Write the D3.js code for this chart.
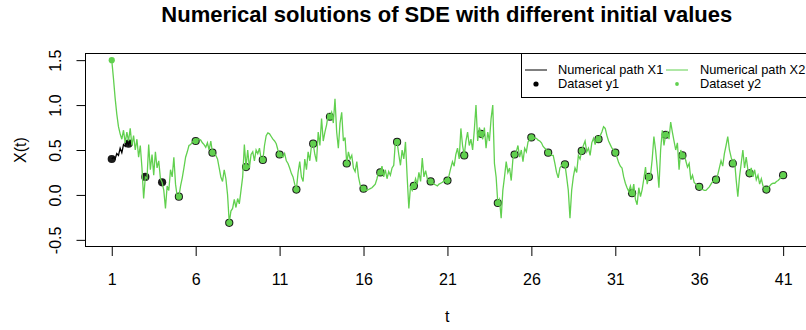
<!DOCTYPE html>
<html>
<head>
<meta charset="utf-8">
<script src="https://cdn.jsdelivr.net/npm/d3@7"></script>
<style>
  html, body { margin: 0; padding: 0; background: #ffffff; }
  svg { display: block; }
  text { font-family: "Liberation Sans", Arial, sans-serif; fill: #000; }
</style>
</head>
<body>
<svg id="chart" width="806" height="330"></svg>
<script>
// ---------------- data ----------------
const titleText = "Numerical solutions of SDE with different initial values";
const xLabel = "t";
const yLabel = "X(t)";
const xTickValues = [1, 6, 11, 16, 21, 26, 31, 36, 41];
const yTickValues = [-0.5, 0.0, 0.5, 1.0, 1.5];
const yTickLabels = ["-0.5", "0.0", "0.5", "1.0", "1.5"];

// time grid of the numerical paths
const pathStart = 1;
const pathStep = 0.1;

// Numerical path X2 (green), one value per 0.1 of t, from t = 1 to t = 41
const x2Values = [
  1.50,1.30,1.08,0.90,0.76,0.68,0.62,0.72,0.58,0.70,
  0.60,0.74,0.55,0.66,0.50,0.62,0.42,0.55,0.30,-0.04,
  0.20,0.18,0.56,0.28,0.45,0.22,0.48,0.30,0.38,0.18,
  0.14,0.05,-0.15,0.10,0.05,0.28,0.20,0.42,0.12,-0.02,
  -0.02,0.10,0.19,0.30,0.42,0.48,0.55,0.56,0.59,0.60,
  0.60,0.62,0.62,0.61,0.58,0.56,0.53,0.58,0.50,0.60,
  0.47,0.46,0.44,0.40,0.30,0.20,0.15,0.28,0.18,0.00,
  -0.31,-0.18,-0.15,-0.05,-0.14,-0.04,-0.10,0.05,0.20,0.56,
  0.31,0.50,0.30,0.45,0.48,0.38,0.50,0.46,0.52,0.40,
  0.38,0.55,0.66,0.69,0.68,0.65,0.62,0.60,0.57,0.50,
  0.45,0.44,0.42,0.46,0.38,0.35,0.30,0.24,0.20,0.12,
  0.06,0.25,0.37,0.20,0.15,0.40,0.28,0.48,0.38,0.55,
  0.57,0.45,0.37,0.70,0.55,0.85,0.60,0.70,0.78,0.90,
  0.87,0.92,0.80,1.07,0.70,0.52,0.80,0.92,0.60,0.64,
  0.35,0.48,0.40,0.44,0.30,0.26,0.37,0.20,0.11,0.08,
  0.07,0.06,0.05,0.06,0.07,0.08,0.10,0.12,0.18,0.26,
  0.25,0.32,0.20,0.28,0.18,0.26,0.22,0.30,0.33,0.60,
  0.59,0.45,0.33,0.50,0.40,0.59,0.20,-0.15,0.10,0.05,
  0.10,0.18,0.12,0.25,0.15,0.41,0.20,0.27,0.18,0.16,
  0.15,0.13,0.12,0.11,0.10,0.12,0.13,0.14,0.16,0.15,
  0.16,0.22,0.30,0.37,0.32,0.45,0.52,0.40,0.74,0.55,
  0.44,0.60,0.70,0.55,0.62,0.50,0.72,1.00,0.60,0.75,
  0.68,0.62,0.75,0.52,0.70,0.60,0.85,1.00,0.35,0.20,
  -0.09,-0.05,-0.26,0.05,0.20,0.37,0.25,0.30,0.16,0.40,
  0.45,0.48,0.55,0.42,0.50,0.37,0.52,0.48,0.59,0.62,
  0.64,0.65,0.63,0.63,0.61,0.60,0.58,0.54,0.52,0.50,
  0.47,0.46,0.44,0.44,0.35,0.25,0.19,0.30,0.33,0.36,
  0.34,0.20,0.05,-0.26,0.05,0.20,0.30,0.25,0.44,0.40,
  0.49,0.55,0.60,0.48,0.52,0.44,0.58,0.63,0.56,0.65,
  0.62,0.66,0.70,0.76,0.74,0.66,0.60,0.56,0.52,0.50,
  0.47,0.42,0.36,0.32,0.30,0.20,0.13,0.08,0.04,0.10,
  0.02,0.12,-0.05,-0.11,0.08,-0.02,0.06,0.18,0.31,0.12,
  0.20,0.22,0.40,0.65,0.50,0.30,0.08,0.50,0.72,0.55,
  0.67,0.70,0.62,0.81,0.70,0.60,0.50,0.58,0.28,0.50,
  0.44,0.46,0.38,0.31,0.35,0.17,0.22,0.14,0.12,0.10,
  0.09,0.07,0.06,0.05,0.05,0.07,0.09,0.12,0.15,0.16,
  0.17,0.22,0.30,0.38,0.32,0.46,0.55,0.65,0.50,0.42,
  0.35,0.40,0.17,-0.02,0.20,0.35,0.50,0.30,0.42,0.28,
  0.24,0.30,0.20,0.28,0.17,0.22,0.12,0.18,0.10,0.08,
  0.06,0.08,0.10,0.12,0.13,0.13,0.15,0.16,0.18,0.20,
  0.22
];

// Numerical path X1 (black), visible part before it joins X2
const x1Values = [0.40,0.42,0.40,0.46,0.44,0.52,0.47,0.56,0.54,0.59,0.56,0.60,0.55];

// observation times and datasets
const obsTimes = d3.range(1, 42);
const y1Values = [0.40,0.57,0.20,0.14,-0.02,0.60,0.47,-0.31,0.31,0.39,
                  0.45,0.06,0.57,0.87,0.35,0.07,0.25,0.59,0.10,0.15,
                  0.16,0.44,0.68,-0.09,0.45,0.64,0.47,0.34,0.49,0.62,
                  0.47,0.02,0.20,0.67,0.44,0.09,0.17,0.35,0.24,0.06,0.22];
const y2Values = [1.50,null,null,null,-0.02,0.60,0.47,-0.31,0.31,0.39,
                  0.45,0.06,0.57,0.87,0.35,0.07,0.25,0.59,0.10,0.15,
                  0.16,0.44,0.68,-0.09,0.45,0.64,0.47,0.34,0.49,0.62,
                  0.47,0.02,0.20,0.67,0.44,0.09,0.17,0.35,0.24,0.06,0.22];

const legendLabels = ["Numerical path X1", "Dataset y1", "Numerical path X2", "Dataset y2"];

// ---------------- layout ----------------
const colX1 = "#000000";
const colX2 = "#61D04F";
const plot = { left: 85.5, right: 810, top: 53.5, bottom: 246.5 };

const svg = d3.select("#chart");

const x = d3.scaleLinear().domain([-0.6, 42.6]).range([plot.left - 0.6, plot.right]);
const y = d3.scaleLinear().domain([-0.574, 1.574]).range([plot.bottom, plot.top]);

svg.append("defs").append("clipPath").attr("id", "clip")
  .append("rect").attr("x", plot.left).attr("y", plot.top)
  .attr("width", plot.right - plot.left).attr("height", plot.bottom - plot.top);

const g = svg.append("g").attr("clip-path", "url(#clip)");

const x1Data = x1Values.map((v, i) => [pathStart + i * pathStep, v]);
const x2Data = x2Values.map((v, i) => [pathStart + i * pathStep, v]);
const line = d3.line().x(d => x(d[0])).y(d => y(d[1]));

// dataset points (drawn first, paths go over them)
g.selectAll("circle.y1").data(obsTimes.map((t, i) => [t, y1Values[i]]).filter(d => d[1] !== null))
  .enter().append("circle").attr("class", "y1")
  .attr("cx", d => x(d[0])).attr("cy", d => y(d[1])).attr("r", 4.1)
  .attr("fill", "#1a1a1a");
g.selectAll("circle.y2").data(obsTimes.map((t, i) => [t, y2Values[i]]).filter(d => d[1] !== null))
  .enter().append("circle").attr("class", "y2")
  .attr("cx", d => x(d[0])).attr("cy", d => y(d[1])).attr("r", 3.1)
  .attr("fill", colX2);

g.append("path").datum(x1Data).attr("d", line)
  .attr("fill", "none").attr("stroke", colX1).attr("stroke-width", 1.3);
g.append("path").datum(x2Data).attr("d", line)
  .attr("fill", "none").attr("stroke", colX2).attr("stroke-width", 1.3);

// box
svg.append("rect").attr("x", plot.left).attr("y", plot.top)
  .attr("width", plot.right - plot.left).attr("height", plot.bottom - plot.top)
  .attr("fill", "none").attr("stroke", "#000").attr("stroke-width", 1);

// x axis
const xAxis = d3.axisBottom(x).tickValues(xTickValues).tickSize(9.5).tickPadding(18)
  .tickFormat(d3.format("d"));
const gx = svg.append("g").attr("transform", `translate(0,${plot.bottom})`).call(xAxis);
gx.select(".domain").remove();
gx.selectAll("line").attr("stroke", "#000");
gx.selectAll("text").attr("font-size", "16px").attr("font-family", "Liberation Sans, Arial, sans-serif").attr("fill", "#000");

// y axis
const yAxis = d3.axisLeft(y).tickValues(yTickValues).tickSize(9)
  .tickFormat((d, i) => yTickLabels[i]);
const gy = svg.append("g").attr("transform", `translate(${plot.left},0)`).call(yAxis);
gy.select(".domain").remove();
gy.selectAll("line").attr("stroke", "#000");
gy.selectAll("text")
  .attr("font-size", "16px").attr("font-family", "Liberation Sans, Arial, sans-serif").attr("fill", "#000")
  .attr("text-anchor", "middle").attr("x", null)
  .attr("transform", "translate(-30,0) rotate(-90)")
  .attr("dy", "0.35em");

// axis titles
svg.append("text").attr("x", (plot.left + 810) / 2 - 0.5).attr("y", 322)
  .attr("text-anchor", "middle").attr("font-size", "16px").text(xLabel);
svg.append("text").attr("transform", `translate(26,${(plot.top + plot.bottom) / 2}) rotate(-90)`)
  .attr("text-anchor", "middle").attr("font-size", "16px").text(yLabel);

// title
svg.append("text").attr("x", (plot.left + 810) / 2 - 1).attr("y", 22)
  .attr("text-anchor", "middle").attr("font-size", "22px").attr("font-weight", "bold")
  .text(titleText);

// legend
const lg = svg.append("g");
lg.append("rect").attr("x", 521.5).attr("y", plot.top).attr("width", 300).attr("height", 44)
  .attr("fill", "#fff").attr("stroke", "#000").attr("stroke-width", 1);
const rowY = [70, 84];
const cols = [{ sym: 525, txt: 558 }, { sym: 666, txt: 700 }];
lg.append("line").attr("x1", cols[0].sym).attr("x2", cols[0].sym + 22)
  .attr("y1", rowY[0]).attr("y2", rowY[0]).attr("stroke", colX1).attr("stroke-width", 1);
lg.append("circle").attr("cx", cols[0].sym + 11).attr("cy", rowY[1]).attr("r", 2.6).attr("fill", colX1);
lg.append("line").attr("x1", cols[1].sym).attr("x2", cols[1].sym + 22)
  .attr("y1", rowY[0]).attr("y2", rowY[0]).attr("stroke", colX2).attr("stroke-width", 1);
lg.append("circle").attr("cx", cols[1].sym + 11).attr("cy", rowY[1]).attr("r", 1.9).attr("fill", colX2);
[[legendLabels[0], 0, 0], [legendLabels[1], 0, 1], [legendLabels[2], 1, 0], [legendLabels[3], 1, 1]]
  .forEach(([txt, c, r]) => {
    lg.append("text").attr("x", cols[c].txt).attr("y", rowY[r]).attr("dy", "0.35em")
      .attr("font-size", "12.8px").text(txt);
  });
</script>
</body>
</html>
